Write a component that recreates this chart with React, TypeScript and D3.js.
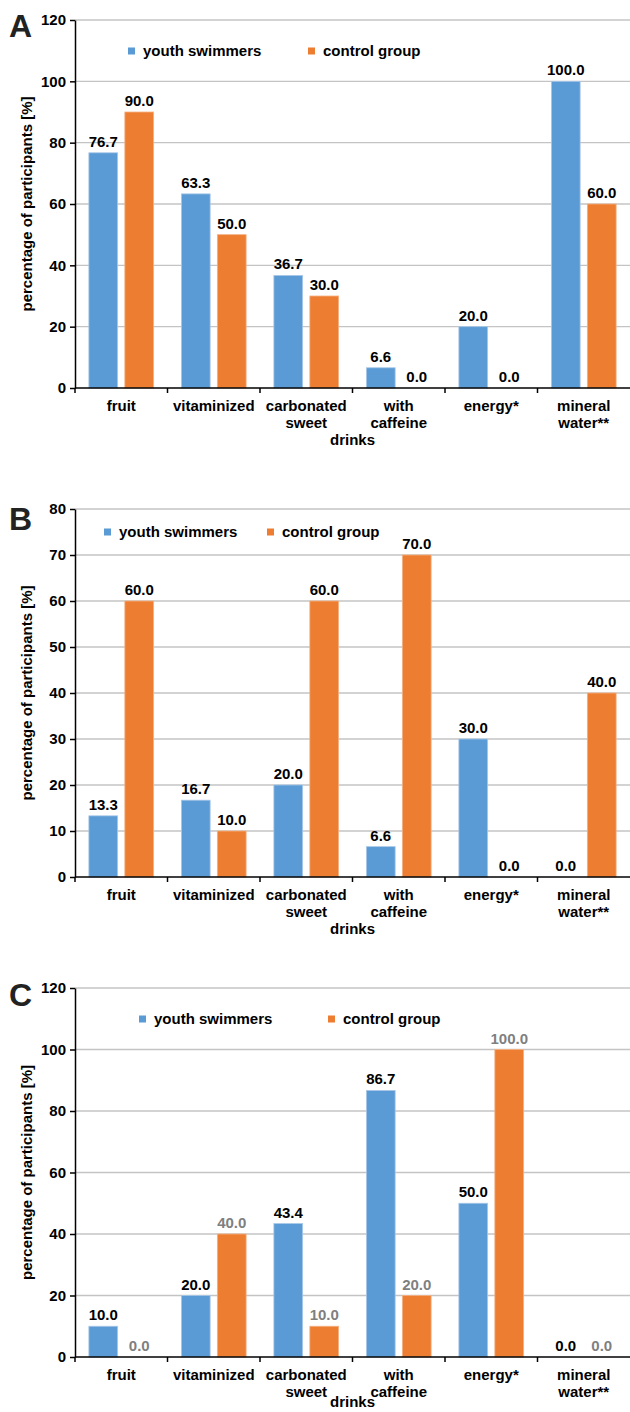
import React, { useEffect, useRef } from 'react';
import * as d3 from 'd3';

const categories = ['fruit', 'vitaminized', 'carbonated sweet', 'with caffeine', 'energy*', 'mineral water**'];
const categoryLines = [['fruit'], ['vitaminized'], ['carbonated', 'sweet'], ['with', 'caffeine'], ['energy*'], ['mineral', 'water**']];
const seriesNames = ['youth swimmers', 'control group'];

const swimmersA = [76.7, 63.3, 36.7, 6.6, 20.0, 100.0];
const controlA = [90.0, 50.0, 30.0, 0.0, 0.0, 60.0];
const swimmersB = [13.3, 16.7, 20.0, 6.6, 30.0, 0.0];
const controlB = [60.0, 10.0, 60.0, 70.0, 0.0, 40.0];
const swimmersC = [10.0, 20.0, 43.4, 86.7, 50.0, 0.0];
const controlC = [0.0, 40.0, 10.0, 20.0, 100.0, 0.0];

const ticksA = [0, 20, 40, 60, 80, 100, 120];
const ticksB = [0, 10, 20, 30, 40, 50, 60, 70, 80];
const ticksC = [0, 20, 40, 60, 80, 100, 120];

const BLUE = '#5b9bd5';
const ORANGE = '#ed7d31';
const FONT = '"Liberation Sans", Arial, sans-serif';

const panels = [
  { letter: 'A', swimmers: swimmersA, control: controlA, ticks: ticksA, top: 20, bottom: 388, letterY: 37, legendY: 51, legendX: [128, 308], controlColor: '#000' },
  { letter: 'B', swimmers: swimmersB, control: controlB, ticks: ticksB, top: 509, bottom: 877, letterY: 530, legendY: 532, legendX: [104, 267], controlColor: '#000' },
  { letter: 'C', swimmers: swimmersC, control: controlC, ticks: ticksC, top: 988, bottom: 1357, letterY: 1006, legendY: 1019, legendX: [139, 328], controlColor: '#7f7f7f' },
];

const App = () => {
  const svgRef = useRef<SVGSVGElement | null>(null);

  useEffect(() => {
    const W = 630;
    const H = 1412;
    const left = 75;
    const right = 630;

    const svg = d3.select(svgRef.current)
      .attr('width', W)
      .attr('height', H)
      .style('background', '#fff')
      .html('');

    panels.forEach(p => {
      const g = svg.append('g').style('font-family', FONT).style('font-weight', 'bold');

      const x0 = d3.scaleBand<string>()
        .domain(categories)
        .range([left, right])
        .paddingInner(0.3)
        .paddingOuter(0.15);
      const x1 = d3.scaleBand<string>()
        .domain(seriesNames)
        .range([0, x0.bandwidth()])
        .paddingInner(0.2);
      const y = d3.scaleLinear()
        .domain([0, d3.max(p.ticks) as number])
        .range([p.bottom, p.top]);

      // gridlines
      g.append('g')
        .selectAll('line')
        .data(p.ticks.filter(t => t > 0))
        .join('line')
        .attr('x1', left)
        .attr('x2', right)
        .attr('y1', d => y(d))
        .attr('y2', d => y(d))
        .attr('stroke', '#c4c4c4')
        .attr('stroke-width', 1.3);

      // bars
      const rows = categories.map((c, i) => ({ cat: c, values: [p.swimmers[i], p.control[i]] }));
      const groups = g.append('g')
        .selectAll('g')
        .data(rows)
        .join('g')
        .attr('transform', d => `translate(${x0(d.cat)},0)`);

      groups.selectAll('rect')
        .data(d => d.values.map((v, k) => ({ name: seriesNames[k], v, k })))
        .join('rect')
        .attr('x', d => x1(d.name) as number)
        .attr('y', d => y(d.v))
        .attr('width', x1.bandwidth())
        .attr('height', d => p.bottom - y(d.v))
        .attr('fill', d => (d.k === 0 ? BLUE : ORANGE))
        .attr('stroke', d => (d.k === 0 ? '#a9c8e8' : '#f4b183'))
        .attr('stroke-width', d => (d.v > 0 ? 0.8 : 0));

      groups.selectAll('text')
        .data(d => d.values.map((v, k) => ({ name: seriesNames[k], v, k })))
        .join('text')
        .attr('x', d => (x1(d.name) as number) + x1.bandwidth() / 2)
        .attr('y', d => y(d.v) - 6)
        .attr('text-anchor', 'middle')
        .attr('font-size', 15)
        .attr('fill', d => (d.k === 0 ? '#000' : p.controlColor))
        .text(d => d.v.toFixed(1));

      // y axis
      const yAxis = d3.axisLeft(y).tickValues(p.ticks).tickSize(5).tickSizeOuter(0).tickPadding(4);
      const ya = g.append('g').attr('transform', `translate(${left},0)`).call(yAxis);
      ya.selectAll('text').attr('font-size', 15).attr('font-family', FONT).attr('font-weight', 'bold').attr('fill', '#000');
      ya.selectAll('path.domain, .tick line').attr('stroke', '#000').attr('stroke-width', 1.5);

      // x axis line with boundary ticks
      g.append('line')
        .attr('x1', left).attr('x2', right)
        .attr('y1', p.bottom).attr('y2', p.bottom)
        .attr('stroke', '#000').attr('stroke-width', 1.5);
      const step = x0.step();
      const bounds = categories.map(c => (x0(c) as number) - step * 0.15);
      g.append('g')
        .selectAll('line')
        .data(bounds)
        .join('line')
        .attr('x1', d => d).attr('x2', d => d)
        .attr('y1', p.bottom).attr('y2', p.bottom + 5)
        .attr('stroke', '#000').attr('stroke-width', 1.5);

      // category labels
      const catText = g.append('g')
        .selectAll('text')
        .data(categories)
        .join('text')
        .attr('text-anchor', 'middle')
        .attr('font-size', 15)
        .attr('fill', '#000');
      catText.each(function (c, i) {
        const cx = (x0(c) as number) + x0.bandwidth() / 2;
        d3.select(this)
          .selectAll('tspan')
          .data(categoryLines[i])
          .join('tspan')
          .attr('x', cx)
          .attr('y', (_, j) => p.bottom + 23 + j * 17)
          .text(t => t);
      });
      // "drinks" shared by the two middle categories; keep it inside the page
      g.append('text')
        .attr('x', bounds[3])
        .attr('y', Math.min(p.bottom + 23 + 34, H - 5))
        .attr('text-anchor', 'middle')
        .attr('font-size', 15)
        .text('drinks');

      // y label
      g.append('text')
        .attr('transform', `translate(32,${(p.top + p.bottom) / 2}) rotate(-90)`)
        .attr('text-anchor', 'middle')
        .attr('font-size', 15)
        .text('percentage of participants [%]');

      // panel letter
      g.append('text')
        .attr('x', 9)
        .attr('y', p.letterY)
        .attr('font-size', 32)
        .attr('fill', '#222')
        .text(p.letter);

      // legend
      const lg = g.append('g')
        .selectAll('g')
        .data(seriesNames)
        .join('g')
        .attr('transform', (_, i) => `translate(${p.legendX[i]},${p.legendY})`);
      lg.append('rect')
        .attr('x', 0).attr('y', -3.5)
        .attr('width', 7).attr('height', 7)
        .attr('fill', (_, i) => (i === 0 ? BLUE : ORANGE));
      lg.append('text')
        .attr('x', 15)
        .attr('y', 5)
        .attr('font-size', 15)
        .text(d => d);
    });
  }, []);

  return <svg ref={svgRef} style={{ position: 'absolute', left: 0, top: 0, display: 'block' }}></svg>;
};

export default App;
